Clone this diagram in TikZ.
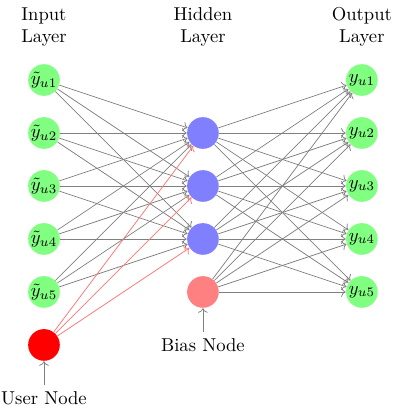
\documentclass[tikz,border=0pt]{standalone}
\usepackage{amsmath}
\usetikzlibrary{arrows.meta, positioning}
\tikzset{
  neuron/.style={
    circle, minimum size=17pt, inner sep=0pt,
    fill=#1, draw=none
  },
  innode/.style={neuron=green!50},
  hidnode/.style={neuron=blue!50},
  outnode/.style={neuron=green!50},
  biasnode/.style={neuron=red!50},
  usernode/.style={neuron=red},
  layerlabel/.style={align=center},
  netarrow/.style={->, draw=black!50},
  userarrow/.style={->, draw=red!55},
}

\begin{document}
\begin{tikzpicture}
  \useasboundingbox (-0.83,0.51) rectangle (6.87,-7.19);

  % layer titles
  \node[layerlabel] (inlabel)  at (0,0) {Input\\Layer};
  \node[layerlabel] (hidlabel) at (3,0) {Hidden\\Layer};
  \node[layerlabel] (outlabel) at (6,0) {Output\\Layer};

  % neurons
  \foreach \i in {1,...,5}
    \node[innode] (I-\i) at (0,-\i) {$\tilde{y}_{u\i}$};
  \foreach \i in {1,...,3}
    \node[hidnode] (H-\i) at (3,-\i-1) {};
  \foreach \i in {1,...,5}
    \node[outnode] (O-\i) at (6,-\i) {$y_{u\i}$};
  \node[biasnode] (bias) at (3,-5) {};
  \node[usernode] (user) at (0,-6) {};

  % connections
  \foreach \i in {1,...,5}
    \foreach \j in {1,...,3}
      \draw[netarrow] (I-\i) -- (H-\j);
  \foreach \j in {1,...,3}
    \draw[userarrow] (user) -- (H-\j);
  \foreach \j in {1,...,3}
    \foreach \k in {1,...,5}
      \draw[netarrow] (H-\j) -- (O-\k);
  \foreach \k in {1,...,5}
    \draw[netarrow] (bias) -- (O-\k);

  % annotations
  \node (userlabel) at (0,-7.0) {User Node};
  \draw[netarrow] (userlabel) -- (user);
  \node (biaslabel) at (3,-6) {Bias Node};
  \draw[netarrow] (biaslabel) -- (bias);
\end{tikzpicture}
\end{document}
